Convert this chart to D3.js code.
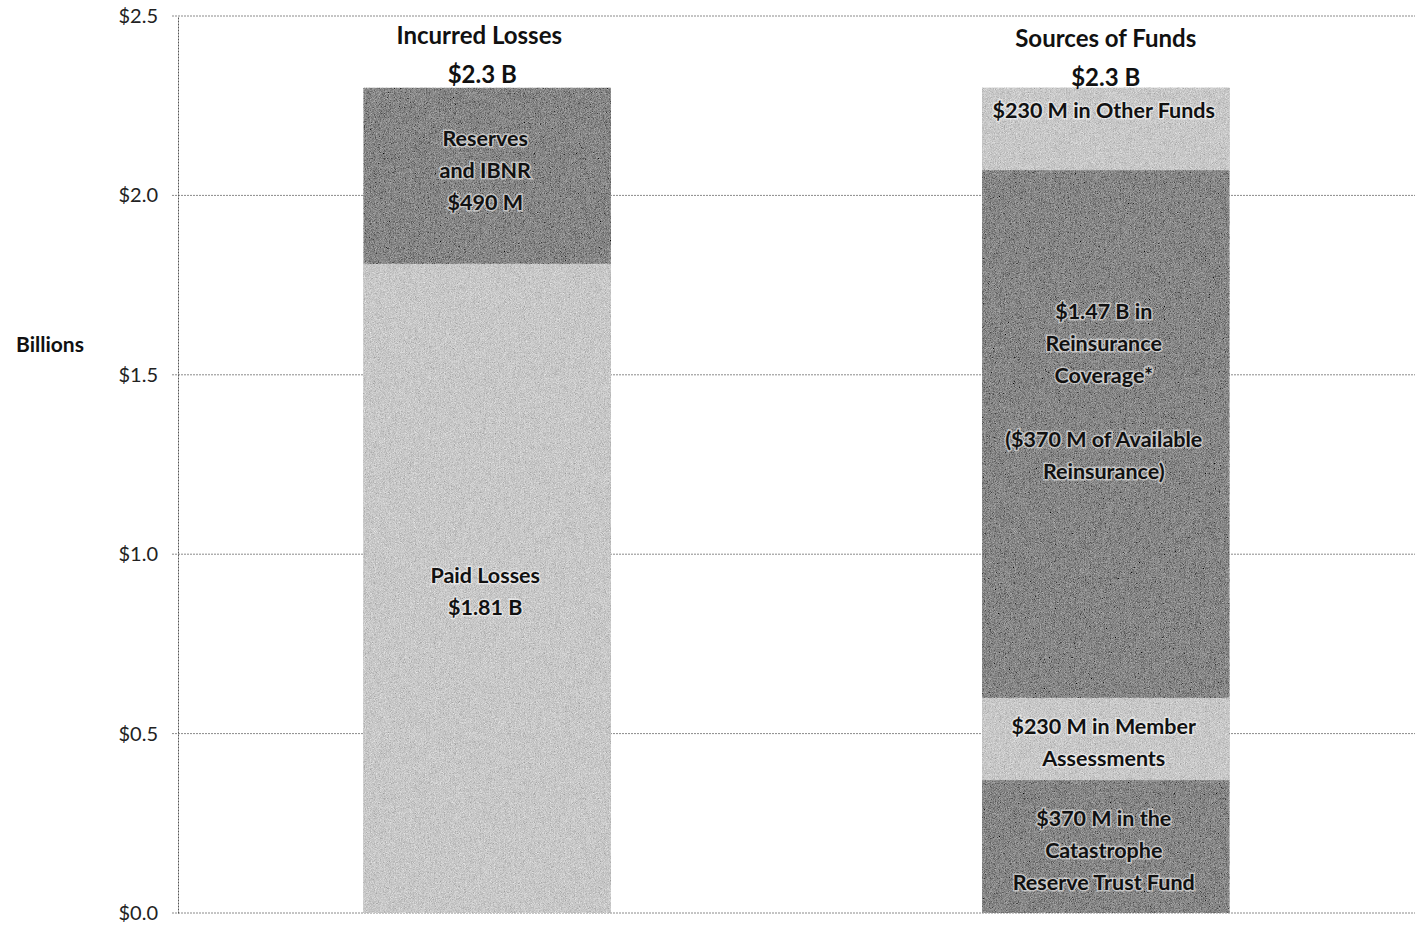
<!DOCTYPE html>
<html>
<head>
<meta charset="utf-8">
<script src="https://cdn.jsdelivr.net/npm/d3@7"></script>
<style>
  body { margin: 0; background: #fff; }
  svg { font-family: Lato, 'Open Sans', sans-serif; }
  .tick text { font-family: Lato, 'Open Sans', sans-serif; font-size: 20px; fill: #222; }
  .seg-label { font-size: 21.5px; font-weight: bold; fill: #111; stroke: #fff; stroke-opacity: 0.5; stroke-width: 3px; paint-order: stroke; }
  .title { font-size: 24px; font-weight: bold; fill: #111; }
</style>
</head>
<body>
<svg id="chart" width="1423" height="928"></svg>
<script>
// data
const categories = ['Incurred Losses', 'Sources of Funds'];
const totals = ['$2.3 B', '$2.3 B'];

const incurredValues = [1.81, 0.49];
const incurredLabels = [
    ['Paid Losses', '$1.81 B'],
    ['Reserves', 'and IBNR', '$490 M']
];
const incurredShades = ['light', 'dark'];

const fundsValues = [0.37, 0.23, 1.47, 0.23];
const fundsLabels = [
    ['$370 M in the', 'Catastrophe', 'Reserve Trust Fund'],
    ['$230 M in Member', 'Assessments'],
    ['$1.47 B in', 'Reinsurance', 'Coverage*', '', '($370 M of Available', 'Reinsurance)'],
    ['$230 M in Other Funds']
];
const fundsShades = ['dark', 'light', 'dark', 'light'];

const yTicks = [0, 0.5, 1.0, 1.5, 2.0, 2.5];

// layout
let width = 1423;
let height = 928;
let margins = { top: 16, bottom: 15, left: 178, right: 8 };
let plotWidth = width - margins.left - margins.right;
let plotHeight = height - margins.top - margins.bottom;

let colors = { dark: '#878787', light: '#c8c8c8' };
let lineHeight = 32;
// small nudges so the label blocks sit as in the original
let labelShift = { 'Sources of Funds-2': -46, 'Sources of Funds-3': -22, 'Incurred Losses-1': -9 };

let svg = d3.select('#chart');

let defs = svg.append('defs');
let filter = defs.append('filter')
    .attr('id', 'grain')
    .attr('x', 0).attr('y', 0).attr('width', '100%').attr('height', '100%');
filter.append('feTurbulence')
    .attr('type', 'fractalNoise')
    .attr('baseFrequency', 1.2)
    .attr('numOctaves', 2)
    .attr('seed', 3)
    .attr('result', 'noise');
filter.append('feColorMatrix')
    .attr('in', 'noise')
    .attr('type', 'matrix')
    .attr('values', '0.33 0.33 0.33 0 0  0.33 0.33 0.33 0 0  0.33 0.33 0.33 0 0  0 0 0 0 1')
    .attr('result', 'gray');
filter.append('feComposite')
    .attr('in', 'SourceGraphic')
    .attr('in2', 'gray')
    .attr('operator', 'arithmetic')
    .attr('k1', 0).attr('k2', 1).attr('k3', 1.0).attr('k4', -0.5)
    .attr('result', 'mixed');
filter.append('feComposite')
    .attr('in', 'mixed')
    .attr('in2', 'SourceAlpha')
    .attr('operator', 'in');

let plotGroup = svg.append('g')
    .attr('transform', `translate(${margins.left},${margins.top})`);

let xScale = d3.scaleBand()
    .domain(categories)
    .range([0, plotWidth])
    .paddingInner(0.6)
    .paddingOuter(0.3);

let yScale = d3.scaleLinear()
    .domain([0, 2.5])
    .range([plotHeight, 0]);

// gridlines
plotGroup.append('g')
    .selectAll('line')
    .data(yTicks)
    .enter()
    .append('line')
    .attr('x1', -6)
    .attr('x2', plotWidth)
    .attr('y1', d => yScale(d))
    .attr('y2', d => yScale(d))
    .style('stroke', '#8a8a8a')
    .style('stroke-width', 1)
    .style('stroke-dasharray', '2,1');

// y axis
let yAxis = d3.axisLeft(yScale)
    .tickValues(yTicks)
    .tickSize(0)
    .tickPadding(20)
    .tickFormat(d => '$' + d3.format('.1f')(d));
let yAxisGroup = plotGroup.append('g')
    .classed('axis', true)
    .call(yAxis);
yAxisGroup.select('.domain')
    .style('stroke', '#555')
    .style('stroke-dasharray', '2,1');

svg.append('text')
    .attr('x', 50)
    .attr('y', 352)
    .attr('text-anchor', 'middle')
    .style('font-size', '21px')
    .style('font-weight', 'bold')
    .style('fill', '#111')
    .text('Billions');

// stacked segments
function stackSegments(category, values, labels, shades) {
    let base = 0;
    return values.map((v, i) => {
        let seg = { category: category, y0: base, y1: base + v, label: labels[i], shade: shades[i], key: `${category}-${i}` };
        base += v;
        return seg;
    });
}

let segments = stackSegments(categories[0], incurredValues, incurredLabels, incurredShades)
    .concat(stackSegments(categories[1], fundsValues, fundsLabels, fundsShades));

let seriesGroup = plotGroup.append('g').classed('series-group', true);

seriesGroup.selectAll('rect')
    .data(segments)
    .enter()
    .append('rect')
    .attr('x', d => xScale(d.category))
    .attr('y', d => yScale(d.y1))
    .attr('width', xScale.bandwidth())
    .attr('height', d => yScale(d.y0) - yScale(d.y1))
    .style('fill', d => colors[d.shade])
    .attr('filter', 'url(#grain)');

seriesGroup.selectAll('.seg-label')
    .data(segments)
    .enter()
    .append('text')
    .classed('seg-label', true)
    .attr('text-anchor', 'middle')
    .each(function (d) {
        let cx = xScale(d.category) + xScale.bandwidth() / 2 - 2;
        let cy = (yScale(d.y0) + yScale(d.y1)) / 2 + (labelShift[d.key] || 0);
        let n = d.label.length;
        let top = cy - (n - 1) * lineHeight / 2;
        d3.select(this).selectAll('tspan')
            .data(d.label)
            .enter()
            .append('tspan')
            .attr('x', cx)
            .attr('y', (t, i) => top + i * lineHeight + 11)
            .text(t => t);
    });

// titles above bars
let titleGroup = plotGroup.append('g');
categories.forEach((c, i) => {
    let cx = xScale(c) + xScale.bandwidth() / 2;
    let dy = i === 0 ? 0 : 3;
    titleGroup.append('text')
        .classed('title', true)
        .attr('x', cx - (i === 0 ? 8 : 0))
        .attr('y', 28 + dy)
        .attr('text-anchor', 'middle')
        .text(c);
    titleGroup.append('text')
        .classed('title', true)
        .attr('x', cx - (i === 0 ? 5 : 0))
        .attr('y', 67 + dy)
        .attr('text-anchor', 'middle')
        .text(totals[i]);
});
</script>
</body>
</html>
